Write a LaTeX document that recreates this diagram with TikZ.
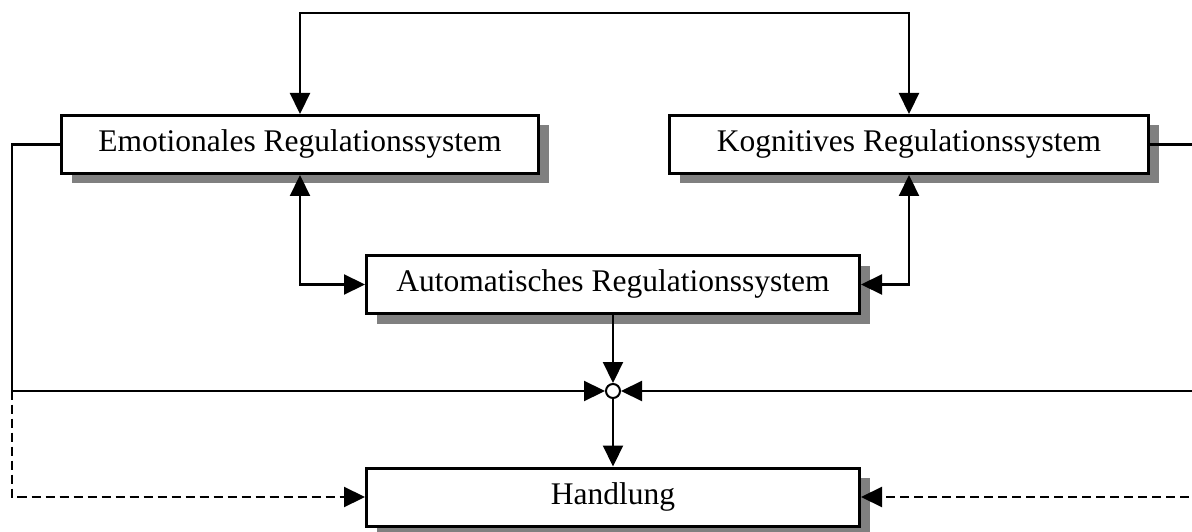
\documentclass[tikz,border=0pt]{standalone}
\usepackage{fontspec}
\setmainfont{Liberation Serif}
\usetikzlibrary{arrows.meta,shadows}

\begin{document}
\begin{tikzpicture}[x=1pt,y=-1pt,
  sysbox/.style={draw,line width=3pt,fill=white,minimum height=58pt,
    inner sep=0pt,text height=21pt,text depth=7pt,
    font=\fontsize{31.5}{36}\selectfont,
    drop shadow={shadow xshift=10pt,shadow yshift=-10pt,fill=black!50,opacity=1}},
  hubnode/.style={circle,draw,line width=2pt,fill=white,minimum size=14pt,inner sep=0pt},
  link/.style={line width=2.2pt},
  dashlink/.style={line width=2.2pt,dash pattern=on 9pt off 5pt},
  tip/.style={-{Triangle[length=21pt,width=20pt]}},
  tips/.style={{Triangle[length=21pt,width=20pt]}-{Triangle[length=21pt,width=20pt]}}
]
\useasboundingbox (0,0) rectangle (1192,532);
\clip (0,0) rectangle (1192,532);

% the four regulation boxes and the junction
\node[sysbox,minimum width=477pt] (emo)  at (300,144.5) {Emotionales Regulationssystem};
\node[sysbox,minimum width=479pt] (kog)  at (909,144.5) {Kognitives Regulationssystem};
\node[sysbox,minimum width=493pt] (auto) at (613,284.5) {Automatisches Regulationssystem};
\node[sysbox,minimum width=493pt] (hand) at (613,497)   {Handlung};
\node[hubnode] (hub) at (613,391) {};

% outer guide lines
\coordinate (topbar) at (0,13);
\coordinate (lx) at (12,0);
\coordinate (rx) at (1210,0);

% connections between the systems
\draw[link,tips] (emo.north) -- (emo.north |- topbar) -| (kog.north);
\draw[link,tips] (emo.south) |- (auto.west);
\draw[link,tips] (kog.south) |- (auto.east);
\draw[link,tip] (auto.south) -- (hub.north);
\draw[link,tip] (hub.south) -- (hand.north);

% side paths to the junction and to the action
\draw[dashlink,tip] (emo.west) -- (emo.west -| lx) |- (hand.west);
\draw[link,tip] (emo.west) -- (emo.west -| lx) |- (hub.west);
\draw[dashlink,tip] (kog.east) -- (kog.east -| rx) |- (hand.east);
\draw[link,tip] (kog.east) -- (kog.east -| rx) |- (hub.east);
\end{tikzpicture}
\end{document}
